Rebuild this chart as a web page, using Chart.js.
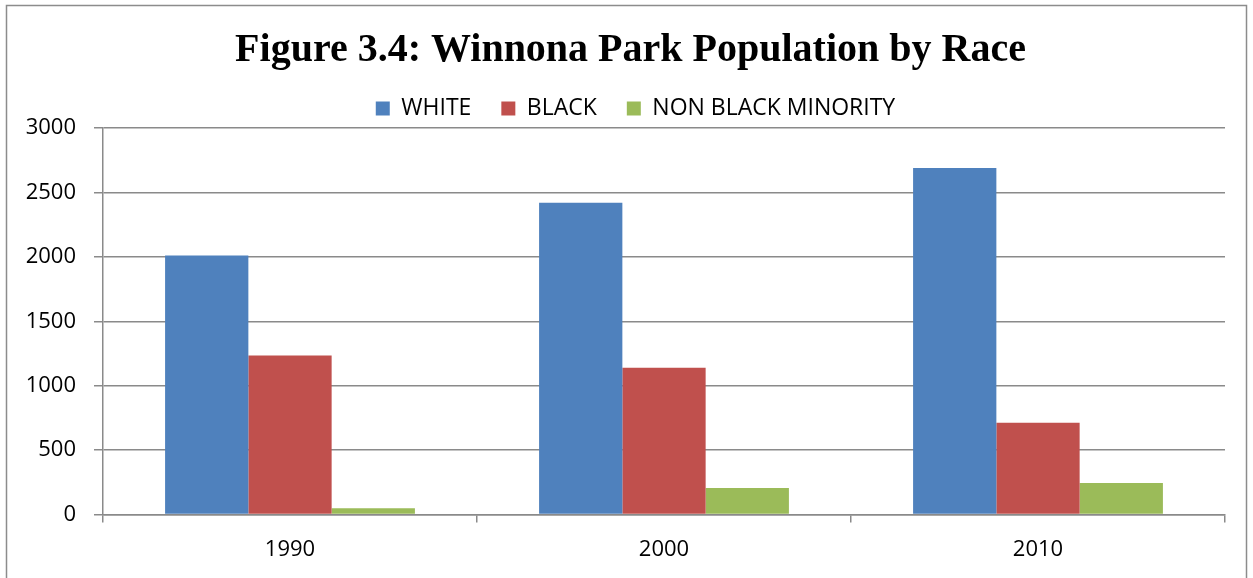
<!DOCTYPE html>
<html>
<head>
<meta charset="utf-8">
<script src="https://cdn.jsdelivr.net/npm/chart.js@4.4.0/dist/chart.umd.min.js"></script>
<style>
  html, body { margin: 0; padding: 0; background: #fff; }
  #wrap { width: 1253px; height: 578px; }
</style>
</head>
<body>
<div id="wrap"><canvas id="raceChart" width="1253" height="578"></canvas></div>
<script>
// Chart data
const years = ['1990', '2000', '2010'];
const whitePop = [2010, 2420, 2690];
const blackPop = [1235, 1140, 712];
const nonBlackMinorityPop = [50, 207, 246];
const yTicks = [0, 500, 1000, 1500, 2000, 2500, 3000];

const gridColor = '#8a8a8a';

// Draws the thin gray frame round the whole chart
const framePlugin = {
    id: 'frame',
    beforeDraw(chart) {
        const ctx = chart.ctx;
        ctx.save();
        ctx.fillStyle = '#fff';
        ctx.fillRect(0, 0, chart.width, chart.height);
        ctx.strokeStyle = '#8c8c8c';
        ctx.lineWidth = 1.5;
        ctx.strokeRect(6.5, 5.5, 1240, 620);
        ctx.restore();
    }
};

// Title and legend sit a bit right of the plot centre in the original
const nudgePlugin = {
    id: 'nudge',
    afterLayout(chart) {
        const t = chart.titleBlock;
        if (t) { t.left += 8; t.right += 8; }
        const l = chart.legend;
        if (l) { l.left += 13; l.right += 13; l.top += 2; l.bottom += 2; }
    }
};

const ctx = document.getElementById('raceChart').getContext('2d');
new Chart(ctx, {
    type: 'bar',
    data: {
        labels: years,
        datasets: [
            { label: 'WHITE', data: whitePop, backgroundColor: '#4F81BD' },
            { label: 'BLACK', data: blackPop, backgroundColor: '#C0504D' },
            { label: 'NON BLACK MINORITY', data: nonBlackMinorityPop, backgroundColor: '#9BBB59' }
        ]
    },
    options: {
        responsive: false,
        animation: false,
        layout: { padding: { top: 37, left: 20, right: 28, bottom: 1 } },
        datasets: {
            bar: { barPercentage: 1, categoryPercentage: 0.668 }
        },
        plugins: {
            title: {
                display: true,
                text: 'Figure 3.4: Winnona Park Population by Race',
                color: '#000',
                font: { family: '"Liberation Serif", "Times New Roman", serif', size: 40, weight: 'bold', lineHeight: 0.7 },
                padding: { top: 0, bottom: 0 }
            },
            legend: {
                position: 'top',
                labels: {
                    color: '#000',
                    font: { family: '"Open Sans", sans-serif', size: 23 },
                    boxWidth: 14,
                    boxHeight: 14,
                    padding: 30
                }
            },
            tooltip: { enabled: false }
        },
        scales: {
            x: {
                grid: {
                    offset: true,
                    drawOnChartArea: false,
                    color: gridColor,
                    lineWidth: 1.5,
                    tickLength: 8
                },
                border: { color: gridColor, width: 1.5 },
                ticks: {
                    color: '#000',
                    font: { family: '"Open Sans", sans-serif', size: 22 },
                    padding: 14
                }
            },
            y: {
                min: 0,
                max: 3000,
                afterBuildTicks(axis) {
                    axis.ticks = yTicks.map(v => ({ value: v }));
                },
                afterFit(axis) {
                    axis.width = 83;
                },
                grid: {
                    color: gridColor,
                    lineWidth: 1.5,
                    tickLength: 9
                },
                border: { color: gridColor, width: 1.5 },
                ticks: {
                    color: '#000',
                    font: { family: '"Open Sans", sans-serif', size: 22 },
                    padding: 18,
                    callback: v => String(v)
                }
            }
        }
    },
    plugins: [framePlugin, nudgePlugin]
});
</script>
</body>
</html>
